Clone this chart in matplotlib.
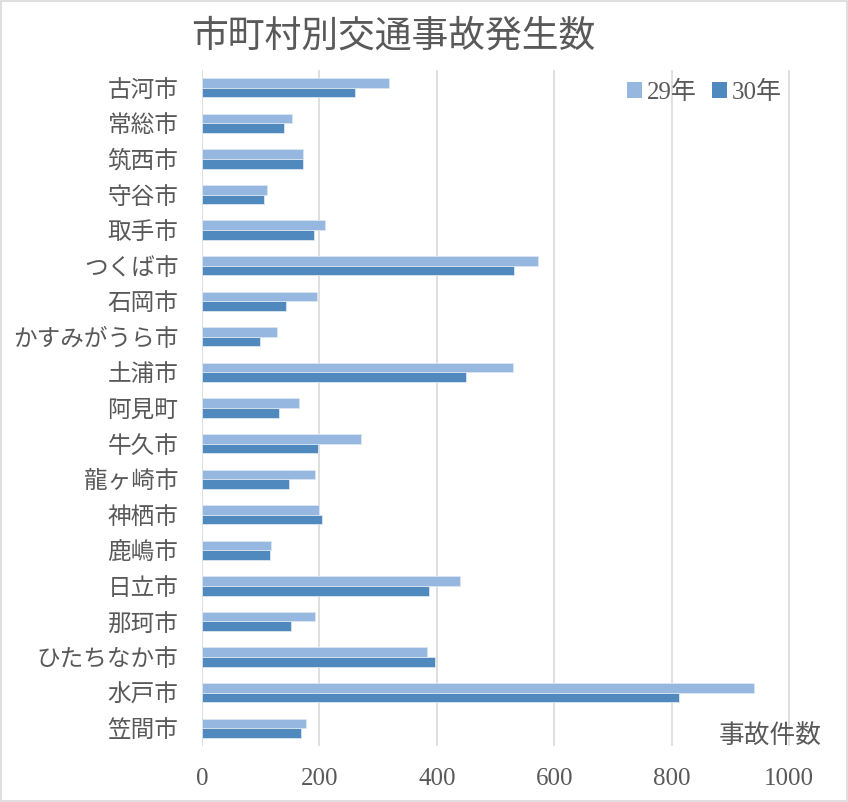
import matplotlib
matplotlib.use('Agg')
import matplotlib.pyplot as plt
import numpy as np
from matplotlib.patches import Rectangle

plt.rcParams['font.family'] = ['Noto Sans CJK JP', 'DejaVu Sans']

# data
cities = ['古河市', '常総市', '筑西市', '守谷市', '取手市', 'つくば市', '石岡市',
          'かすみがうら市', '土浦市', '阿見町', '牛久市', '龍ヶ崎市', '神栖市',
          '鹿嶋市', '日立市', '那珂市', 'ひたちなか市', '水戸市', '笠間市']
h29 = [319, 154, 172, 110, 209, 572, 196, 127, 530, 166, 270, 193, 200,
       117, 440, 192, 383, 941, 177]
h30 = [260, 140, 172, 106, 190, 531, 143, 99, 450, 131, 197, 148, 205,
       115, 387, 151, 396, 812, 169]
x_ticks = [0, 200, 400, 600, 800, 1000]

TXT = '#595959'
C29 = '#95B7E0'
C30 = '#4F89BD'
NUM_FONT = ['Liberation Serif', 'Noto Sans CJK JP']

W, H = 848, 802
fig = plt.figure(figsize=(W / 100, H / 100), dpi=100)
fig.patch.set_facecolor('white')

# plot area in pixels
left, right, top, bottom = 202, 795, 70, 746
ax = fig.add_axes([left / W, 1 - bottom / H, (right - left) / W, (bottom - top) / H])

y = np.arange(len(cities))
bh = 0.27
ax.barh(y - bh / 2, h29, height=bh, color=C29, edgecolor='#dce6f2',
        linewidth=0.6, label='29年', zorder=3)
ax.barh(y + bh / 2, h30, height=bh, color=C30, edgecolor='#dce6f2',
        linewidth=0.6, label='30年', zorder=3)

ax.set_ylim(len(cities) - 0.5, -0.5)
ax.set_xlim(0, 1010)
ax.set_xticks(x_ticks)
ax.set_xticklabels([str(v) for v in x_ticks], family=NUM_FONT, fontsize=18, color=TXT)
ax.set_yticks(y)
ax.set_yticklabels(cities, fontsize=17, color=TXT)
ax.tick_params(axis='both', length=0)
ax.tick_params(axis='y', pad=17)
ax.tick_params(axis='x', pad=16)
ax.xaxis.grid(True, color='#d9d9d9', linewidth=1.2, zorder=0)
ax.set_axisbelow(True)
for s in ax.spines.values():
    s.set_visible(False)

leg = ax.legend(loc='center right', bbox_to_anchor=(792 / W, 1 - 92 / H),
                bbox_transform=fig.transFigure, ncol=2, frameon=False,
                handlelength=0.6, handleheight=0.6, handletextpad=0.2,
                columnspacing=0.6, borderaxespad=0,
                prop={'family': NUM_FONT, 'size': 18})
for t in leg.get_texts():
    t.set_color(TXT)
for p in leg.get_patches():
    p.set_edgecolor('none')

fig.text(393 / W, 1 - 36 / H, '市町村別交通事故発生数', fontsize=26.5, color=TXT,
         ha='center', va='center')
fig.text(822 / W, 1 - 737 / H, '事故件数', fontsize=18.5, color=TXT,
         ha='right', va='center')

# chart border
fig.patches.append(Rectangle((0.001, 0.001), 0.998, 0.998, transform=fig.transFigure,
                             fill=False, edgecolor='#d9d9d9', linewidth=1.2))

fig.savefig('out.png', dpi=100)
